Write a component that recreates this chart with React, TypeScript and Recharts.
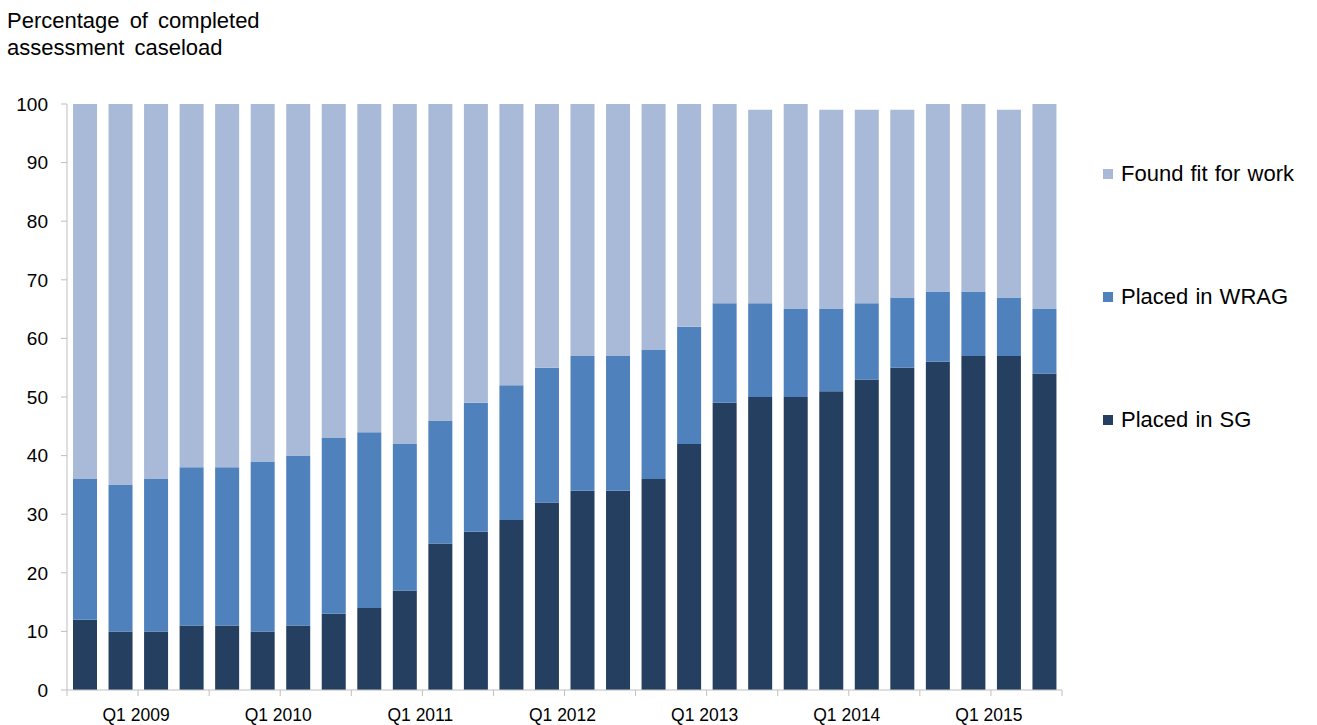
import React from 'react';
import { BarChart, Bar, XAxis, YAxis } from 'recharts';

const quarters = [
  'Q3 2008', 'Q4 2008',
  'Q1 2009', 'Q2 2009', 'Q3 2009', 'Q4 2009',
  'Q1 2010', 'Q2 2010', 'Q3 2010', 'Q4 2010',
  'Q1 2011', 'Q2 2011', 'Q3 2011', 'Q4 2011',
  'Q1 2012', 'Q2 2012', 'Q3 2012', 'Q4 2012',
  'Q1 2013', 'Q2 2013', 'Q3 2013', 'Q4 2013',
  'Q1 2014', 'Q2 2014', 'Q3 2014', 'Q4 2014',
  'Q1 2015', 'Q2 2015',
];

const placedSG = [12, 10, 10, 11, 11, 10, 11, 13, 14, 17, 25, 27, 29, 32, 34, 34, 36, 42, 49, 50, 50, 51, 53, 55, 56, 57, 57, 54];
const sgPlusWrag = [36, 35, 36, 38, 38, 39, 40, 43, 44, 42, 46, 49, 52, 55, 57, 57, 58, 62, 66, 66, 65, 65, 66, 67, 68, 68, 67, 65];
const totals = [100, 100, 100, 100, 100, 100, 100, 100, 100, 100, 100, 100, 100, 100, 100, 100, 100, 100, 100, 99, 100, 99, 99, 99, 100, 100, 99, 100];

const yTicks = [0, 10, 20, 30, 40, 50, 60, 70, 80, 90, 100];

const seriesNames = ['Placed in SG', 'Placed in WRAG', 'Found fit for work'];
const seriesKeys = ['sg', 'wrag', 'fit'];
const seriesColors = ['#243F60', '#4F81BD', '#A9B9D8'];

const data = quarters.map((q, i) => ({
  quarter: q,
  sg: placedSG[i],
  wrag: sgPlusWrag[i] - placedSG[i],
  fit: totals[i] - sgPlusWrag[i],
}));

const WIDTH = 1317;
const HEIGHT = 725;
const MARGIN = { top: 104, right: 255, bottom: 0, left: 0 };
const Y_AXIS_W = 67;
const PLOT_W = WIDTH - MARGIN.left - MARGIN.right - Y_AXIS_W;
const BAND = PLOT_W / quarters.length;

const FONT = 'Arial, "Liberation Sans", sans-serif';
const AXIS_GREY = '#BFBFBF';

const XTick = (props: any) => {
  const { x, y, payload } = props;
  const i = payload.index;
  const left = x - BAND / 2;
  const right = x + BAND / 2;
  return (
    <g>
      {i % 2 === 0 && <line x1={left} x2={left} y1={y} y2={y + 6} stroke={AXIS_GREY} strokeWidth={1} />}
      {i === quarters.length - 1 && <line x1={right} x2={right} y1={y} y2={y + 6} stroke={AXIS_GREY} strokeWidth={1} />}
      {i % 4 === 2 && (
        <text x={left - 2} y={y + 31} textAnchor="middle" fontSize={17.5} fontFamily={FONT} fill="#000">
          {payload.value}
        </text>
      )}
    </g>
  );
};

export default function App() {
  const legendOrder = [2, 1, 0];
  return (
    <div style={{ position: 'absolute', left: 0, top: 0, width: WIDTH, height: HEIGHT, background: '#fff' }}>
      <div
        style={{
          position: 'absolute',
          left: 7,
          top: 7,
          fontFamily: FONT,
          fontSize: 22,
          lineHeight: '27px',
          wordSpacing: 4,
          color: '#000',
        }}
      >
        Percentage of completed
        <br />
        assessment caseload
      </div>
      <div style={{ position: 'absolute', left: 1103, top: 112, width: 214, fontFamily: FONT }}>
        {legendOrder.map((k) => (
          <div key={seriesKeys[k]} style={{ display: 'flex', alignItems: 'center', height: 123 }}>
            <div style={{ width: 10, height: 10, background: seriesColors[k], marginRight: 8 }} />
            <span style={{ fontSize: 22, color: '#000', wordSpacing: 1 }}>{seriesNames[k]}</span>
          </div>
        ))}
      </div>
      <BarChart width={WIDTH} height={HEIGHT} data={data} margin={MARGIN} barSize={24}>
        <XAxis
          dataKey="quarter"
          interval={0}
          height={35}
          tickSize={0}
          tickMargin={0}
          tickLine={false}
          axisLine={{ stroke: AXIS_GREY }}
          tick={<XTick />}
        />
        <YAxis
          domain={[0, 100]}
          ticks={yTicks}
          width={Y_AXIS_W}
          tickSize={6}
          tickMargin={13}
          axisLine={{ stroke: AXIS_GREY }}
          tickLine={{ stroke: AXIS_GREY }}
          tick={{ fontSize: 19, fontFamily: FONT, fill: '#000' }}
          interval={0}
        />
        {seriesKeys.map((k, i) => (
          <Bar key={k} dataKey={k} name={seriesNames[i]} stackId="a" fill={seriesColors[i]} isAnimationActive={false} />
        ))}
      </BarChart>
    </div>
  );
}
